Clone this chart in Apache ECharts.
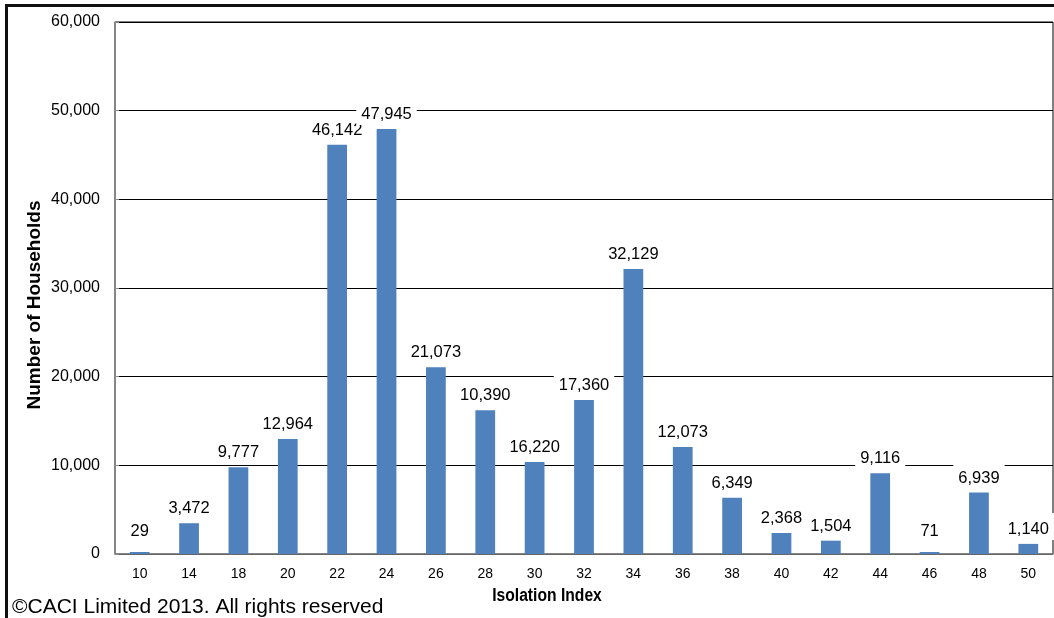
<!DOCTYPE html>
<html><head><meta charset="utf-8">
<script src="https://cdn.jsdelivr.net/npm/echarts@6/dist/echarts.min.js"></script>
<style>html,body{margin:0;padding:0;background:#fff}#c{width:1054px;height:618px}</style>
</head><body><div id="c"></div>
<script>
const categories = ['10','14','18','20','22','24','26','28','30','32','34','36','38','40','42','44','46','48','50'];
const barValues = [29,3472,9777,12964,46142,47945,21073,16220,10390,17360,32129,12073,6349,2368,1504,9116,71,6939,1140];
const labelTexts = ['29','3,472','9,777','12,964','46,142','47,945','21,073','10,390','16,220','17,360','32,129','12,073','6,349','2,368','1,504','9,116','71','6,939','1,140'];
const yTicks = [0,10000,20000,30000,40000,50000,60000];

const font = "'Liberation Sans', Arial, sans-serif";
const chart = echarts.init(document.getElementById('c'), null, {renderer:'canvas'});
chart.setOption({
  animation:false,
  backgroundColor:'#fff',
  grid:{left:115, right:1, top:22, bottom:64, show:true, borderColor:'#000', borderWidth:1, backgroundColor:'transparent'},
  xAxis:{type:'category', data:categories,
    axisLine:{lineStyle:{color:'#888', width:1.5}}, axisTick:{show:false},
    axisLabel:{fontFamily:font, fontSize:14, color:'#000', margin:13}},
  yAxis:{type:'value', min:yTicks[0], max:yTicks[yTicks.length-1], interval:10000,
    axisLine:{show:true, lineStyle:{color:'#888', width:1.5}},
    axisTick:{show:true, inside:true, length:4, lineStyle:{color:'#888'}},
    splitLine:{lineStyle:{color:'#000', width:1}},
    axisLabel:{fontFamily:font, fontSize:16, color:'#000', margin:15,
      formatter:v=>v.toLocaleString('en-US')}},
  series:[{type:'bar', barWidth:'40%', barMinHeight:2,
    itemStyle:{color:'#4F81BD'},
    data:barValues.map((v,i)=>({value:v, label:{distance: v<500 ? 10 : 4}})),
    label:{show:true, position:'top', fontFamily:font, fontSize:16.5, color:'#000',
      backgroundColor:'#fff', padding:[8,5,2,5],
      formatter:p=>labelTexts[p.dataIndex]}}],
  graphic:[
    {type:'rect', shape:{x:5, y:4, width:1049, height:3}, style:{fill:'#111'}, silent:true},
    {type:'rect', shape:{x:5, y:4, width:3, height:614}, style:{fill:'#111'}, silent:true},
    {type:'text', x:547, y:596, scaleX:0.87, silent:true,
      style:{text:'Isolation Index', font:"bold 18px 'Liberation Sans', Arial, sans-serif", fill:'#000', align:'center', verticalAlign:'middle'}},
    {type:'text', x:35, y:305, rotation:Math.PI/2, silent:true,
      style:{text:'Number of Households', font:"bold 19px 'Liberation Sans', Arial, sans-serif", fill:'#000', align:'center', verticalAlign:'middle'}},
    {type:'text', left:12, top:597, style:{text:'©CACI Limited 2013. All rights reserved', font:"21px 'Liberation Sans', Arial, sans-serif", fill:'#000'}}
  ]
});
</script></body></html>
